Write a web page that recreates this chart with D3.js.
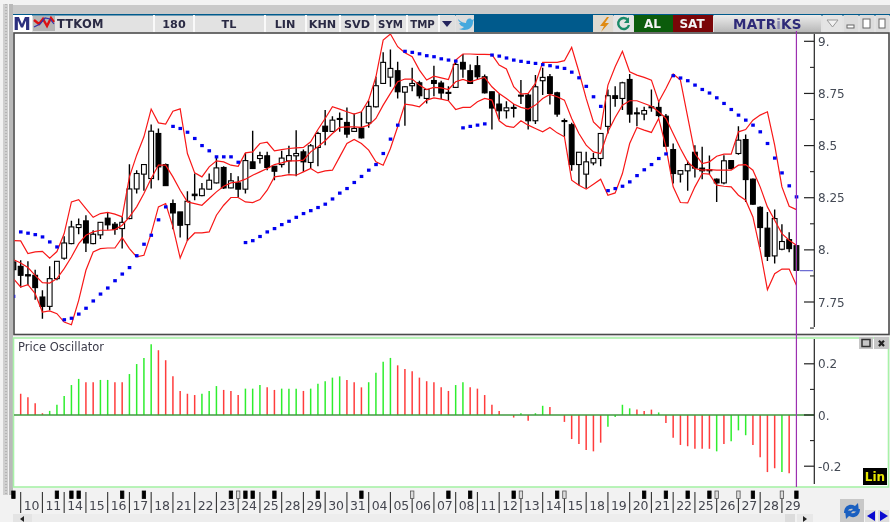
<!DOCTYPE html>
<html><head><meta charset="utf-8">
<script src="https://cdn.jsdelivr.net/npm/d3@7/dist/d3.min.js"></script>
<style>html,body{margin:0;padding:0;background:#f0f0f0;overflow:hidden}svg{display:block;filter:blur(0.3px)}text{font-family:"DejaVu Sans",sans-serif}</style>
</head><body><div id="chart"></div>
<script>
const symbol="TTKOM";
const toolbarCells=[["180",155,193],["TL",195,263],["LIN",266,304],["KHN",307,338],["SVD",341,373],["SYM",376,405],["TMP",408,437]];
const dayLabels=["10","11","14","15","16","17","18","21","22","23","24","25","28","29","30","31","04","05","06","07","08","11","12","13","14","15","18","19","20","21","22","25","26","27","28","29"];
const opens=[7.942,7.921,7.881,7.878,7.774,7.729,7.862,7.96,8.03,8.107,8.139,8.03,8.072,8.152,8.123,8.102,8.15,8.292,8.363,8.342,8.558,8.409,8.222,8.182,8.121,8.267,8.26,8.291,8.321,8.395,8.297,8.321,8.291,8.422,8.438,8.451,8.401,8.409,8.427,8.451,8.47,8.419,8.491,8.593,8.568,8.63,8.611,8.568,8.584,8.609,8.686,8.798,8.828,8.859,8.756,8.787,8.801,8.726,8.812,8.8,8.755,8.779,8.899,8.859,8.883,8.83,8.758,8.699,8.667,8.683,8.742,8.742,8.619,8.811,8.83,8.753,8.62,8.6,8.409,8.363,8.417,8.438,8.592,8.739,8.726,8.817,8.657,8.651,8.686,8.683,8.641,8.481,8.363,8.379,8.468,8.392,8.384,8.339,8.321,8.428,8.462,8.529,8.339,8.204,8.104,7.971,8.003,8.049,8.02];
const highs=[7.961,7.95,7.945,7.905,7.806,7.921,7.945,8.065,8.139,8.15,8.166,8.094,8.134,8.177,8.134,8.158,8.411,8.382,8.409,8.601,8.582,8.414,8.241,8.182,8.281,8.366,8.321,8.366,8.449,8.401,8.369,8.353,8.465,8.571,8.47,8.47,8.401,8.475,8.499,8.574,8.481,8.507,8.566,8.67,8.641,8.659,8.683,8.654,8.662,8.715,8.83,8.948,8.961,8.902,8.785,8.873,8.811,8.769,8.883,8.811,8.785,8.899,8.939,8.889,8.929,8.841,8.758,8.75,8.713,8.699,8.814,8.75,8.838,8.873,8.843,8.758,8.63,8.609,8.468,8.47,8.465,8.558,8.769,8.785,8.806,8.843,8.683,8.686,8.769,8.713,8.651,8.51,8.382,8.427,8.502,8.494,8.452,8.342,8.454,8.43,8.593,8.553,8.342,8.209,8.182,8.193,8.123,8.084,8.02];
const lows=[7.894,7.819,7.83,7.761,7.67,7.71,7.854,7.953,8.027,8.075,7.99,8.027,8.052,8.097,8.072,8.006,8.147,8.27,8.283,8.294,8.334,8.307,8.099,8.059,8.043,8.238,8.257,8.289,8.318,8.292,8.296,8.251,8.27,8.39,8.414,8.382,8.334,8.395,8.366,8.353,8.374,8.39,8.401,8.502,8.566,8.566,8.537,8.566,8.534,8.585,8.683,8.798,8.782,8.726,8.595,8.76,8.726,8.702,8.737,8.723,8.715,8.777,8.825,8.795,8.814,8.75,8.577,8.625,8.63,8.635,8.699,8.577,8.603,8.742,8.697,8.638,8.542,8.379,8.31,8.294,8.406,8.401,8.558,8.686,8.67,8.609,8.593,8.622,8.662,8.635,8.494,8.318,8.323,8.283,8.347,8.339,8.363,8.23,8.315,8.385,8.456,8.23,8.216,8.014,7.947,7.934,7.998,7.988,7.902];
const closes=[7.905,7.878,7.875,7.819,7.729,7.862,7.945,8.033,8.11,8.121,8.033,8.075,8.132,8.12,8.099,8.132,8.292,8.366,8.409,8.569,8.398,8.308,8.177,8.118,8.233,8.26,8.292,8.334,8.393,8.297,8.331,8.291,8.428,8.39,8.452,8.395,8.377,8.44,8.452,8.462,8.422,8.499,8.558,8.568,8.622,8.627,8.555,8.582,8.537,8.688,8.787,8.899,8.87,8.758,8.782,8.798,8.739,8.769,8.798,8.752,8.752,8.889,8.867,8.798,8.83,8.753,8.68,8.667,8.681,8.68,8.739,8.619,8.782,8.827,8.75,8.651,8.617,8.409,8.468,8.422,8.438,8.558,8.739,8.726,8.801,8.651,8.654,8.668,8.683,8.644,8.497,8.366,8.38,8.409,8.392,8.379,8.38,8.321,8.427,8.39,8.526,8.337,8.219,8.107,7.969,8.15,8.04,8.006,7.902];
const bandUpper=[8.044,8.043,7.982,7.99,7.993,7.96,7.992,8.078,8.23,8.241,8.198,8.156,8.174,8.18,8.171,8.158,8.35,8.454,8.542,8.675,8.609,8.603,8.665,8.676,8.462,8.369,8.35,8.398,8.427,8.422,8.406,8.401,8.465,8.47,8.51,8.516,8.475,8.481,8.486,8.489,8.491,8.518,8.577,8.63,8.686,8.675,8.662,8.651,8.662,8.718,8.83,9.006,9.035,8.974,8.945,8.926,8.862,8.814,8.833,8.825,8.817,8.91,8.939,8.939,8.937,8.937,8.936,8.886,8.867,8.782,8.747,8.75,8.798,8.899,8.899,8.899,8.907,8.971,8.854,8.726,8.614,8.58,8.79,8.878,8.952,8.854,8.838,8.827,8.814,8.71,8.774,8.843,8.814,8.638,8.462,8.414,8.422,8.449,8.459,8.459,8.566,8.577,8.622,8.646,8.662,8.502,8.302,8.209,8.193];
const bandMiddle=[7.953,7.937,7.915,7.878,7.843,7.841,7.862,7.91,7.966,8.03,8.07,8.086,8.094,8.094,8.097,8.118,8.158,8.206,8.27,8.342,8.406,8.406,8.35,8.286,8.23,8.222,8.214,8.246,8.278,8.305,8.321,8.326,8.339,8.358,8.374,8.39,8.409,8.417,8.427,8.427,8.43,8.47,8.494,8.523,8.558,8.587,8.59,8.59,8.587,8.598,8.63,8.694,8.75,8.806,8.819,8.819,8.79,8.769,8.779,8.777,8.769,8.806,8.817,8.806,8.817,8.827,8.782,8.75,8.726,8.699,8.683,8.675,8.694,8.726,8.745,8.734,8.718,8.63,8.558,8.502,8.47,8.462,8.566,8.635,8.694,8.715,8.715,8.702,8.689,8.662,8.63,8.558,8.486,8.422,8.39,8.382,8.385,8.382,8.382,8.382,8.406,8.409,8.382,8.302,8.206,8.142,8.078,8.046,8.022];
const bandLower=[7.862,7.822,7.833,7.79,7.702,7.707,7.694,7.654,7.641,7.758,7.902,7.99,8.006,8.009,8.009,8.059,8.006,7.966,7.974,8.078,8.206,8.222,8.11,7.961,8.046,8.081,8.081,8.086,8.166,8.214,8.251,8.251,8.23,8.227,8.241,8.286,8.35,8.355,8.361,8.358,8.374,8.39,8.369,8.379,8.382,8.446,8.51,8.529,8.51,8.478,8.422,8.406,8.486,8.59,8.699,8.694,8.686,8.718,8.729,8.723,8.715,8.673,8.683,8.683,8.71,8.726,8.718,8.619,8.593,8.587,8.619,8.598,8.582,8.566,8.587,8.561,8.542,8.334,8.31,8.291,8.315,8.339,8.262,8.273,8.366,8.51,8.587,8.574,8.563,8.63,8.494,8.302,8.227,8.225,8.302,8.366,8.363,8.31,8.305,8.302,8.262,8.238,8.158,7.998,7.809,7.886,7.908,7.908,7.83];
const sar=[7.777,8.086,8.08,8.073,8.062,8.038,8.014,7.665,7.672,7.692,7.72,7.755,7.788,7.817,7.852,7.884,7.915,7.972,8.027,8.07,8.144,8.206,8.592,8.582,8.564,8.534,8.5,8.475,8.446,8.446,8.446,8.42,8.035,8.044,8.064,8.086,8.102,8.121,8.137,8.156,8.174,8.188,8.203,8.219,8.244,8.272,8.294,8.323,8.352,8.382,8.409,8.462,8.531,8.598,8.952,8.947,8.94,8.931,8.926,8.916,8.91,8.905,8.585,8.592,8.598,8.604,8.934,8.929,8.92,8.91,8.904,8.899,8.894,8.888,8.883,8.876,8.87,8.852,8.825,8.784,8.734,8.688,8.284,8.294,8.305,8.326,8.356,8.384,8.409,8.438,8.46,8.835,8.824,8.811,8.79,8.769,8.752,8.729,8.702,8.673,8.646,8.622,8.598,8.566,8.51,8.44,8.369,8.307,8.254];
const oscillator=[0.083,0.069,0.046,0.007,0.016,0.04,0.074,0.117,0.141,0.128,0.128,0.137,0.137,0.128,0.128,0.16,0.199,0.223,0.276,0.253,0.214,0.151,0.094,0.083,0.078,0.083,0.094,0.113,0.098,0.094,0.078,0.103,0.103,0.117,0.108,0.098,0.103,0.103,0.103,0.094,0.103,0.122,0.132,0.146,0.151,0.137,0.128,0.108,0.128,0.165,0.208,0.223,0.194,0.18,0.171,0.146,0.132,0.128,0.108,0.094,0.117,0.128,0.108,0.103,0.078,0.04,0.016,0,-0.01,0.007,-0.022,0.007,0.036,0.031,0,-0.027,-0.094,-0.113,-0.137,-0.142,-0.108,-0.046,-0.008,0.04,0.026,0.021,0.016,0.021,0.01,-0.031,-0.089,-0.117,-0.122,-0.132,-0.132,-0.132,-0.142,-0.113,-0.103,-0.06,-0.079,-0.117,-0.165,-0.223,-0.208,-0.223,-0.228];
const oscillatorTrend="RRRRGGGGGRRGGRRGGGGRRRRRRGGGRRRGGGRRGGGRGGGGGRRRGGGGRRRRRRRRGGRRRRRRRGRGGRRRRRRRRGGGGRRRGRRRRRRRGRGGGRRRRGRR";
const priceTicks=[[9,"9."],[8.75,"8.75"],[8.5,"8.5"],[8.25,"8.25"],[8,"8."],[7.75,"7.75"]];
const priceMinor=[8.875,8.625,8.375,8.125,7.875,7.625];
const oscTicks=[[0.2,"0.2"],[0,"0."],[-0.2,"-0.2"]];
const oscMinor=[0.1,-0.1];
const signalEvents=[[0,"b"],[6,"b"],[8,"b"],[9,"b"],[15,"b"],[18,"b"],[30,"b"],[31,"w"],[32,"b"],[33,"b"],[36,"b"],[42,"b"],[48,"b"],[55,"w"],[60,"b"],[63,"b"],[69,"b"],[70,"w"],[75,"b"],[76,"w"],[87,"b"],[90,"b"],[93,"b"],[96,"b"],[97,"w"],[100,"w"],[102,"b"],[106,"w"],[108,"b"]];
const lastPrice=7.9;

const svg=d3.select("#chart").append("svg").attr("width",890).attr("height",522);
const x=d3.scaleLinear().domain([0,108]).range([13.42,796.42]);
const yP=d3.scaleLinear().domain([7.75,9]).range([302,41.3]);
const yO=d3.scaleLinear().domain([-0.2,0.2]).range([466.2,363.8]);
const rect=(g,a,b,w,h,f)=>g.append("rect").attr("x",a).attr("y",b).attr("width",w).attr("height",h).attr("fill",f);
const label=(g,t,a,b,o={})=>g.append("text").attr("x",a).attr("y",b).attr("text-anchor",o.anchor||"start").attr("font-size",o.size||12).attr("font-weight",o.weight||400).attr("fill",o.fill||"#3c3c4a").attr("letter-spacing",o.ls||0).text(t);

// window chrome
rect(svg,0,0,890,522,"#f2f2f2");
rect(svg,10,5,880,9,"#c9c9c9");
rect(svg,3,4,5,491,"#cfcfcf");
rect(svg,9,4,4,491,"#b9b9b9");
svg.append("line").attr("x1",6).attr("x2",6).attr("y1",4).attr("y2",495).attr("stroke","#999").attr("stroke-dasharray","1 2");

// toolbar
const tb=svg.append("g");
rect(tb,13,14,877,18,"#e2e2e2");
rect(tb,13,14,877,1.5,"#005a8c");
rect(tb,13,15,19,17,"#fff");
label(tb,"M",22,30,{anchor:"middle",size:18,weight:700,fill:"#2b2f7e"});
rect(tb,33,16,22,15,"#b5b5b5");
tb.append("path").attr("d","M34 20l5 4l4 -5l4 7l4 -8l3 4").attr("fill","none").attr("stroke","#d11").attr("stroke-width",2.4);
tb.append("path").attr("d","M34 27l6 -3l5 -6l5 1l4 5").attr("fill","none").attr("stroke","#33a").attr("stroke-width",1.2);
label(tb,symbol,57,28,{size:11.5,weight:700,fill:"#2a2a44",ls:0.2});
tb.selectAll(".cell").data(toolbarCells).join(e=>e.append("g")).each(function(d){
  const g=d3.select(this);
  rect(g,d[1]-2,15,2,17,"#f9f9f9");
  label(g,d[0],(d[1]+d[2])/2,28,{anchor:"middle",size:d[2]-d[1]<31?10.2:11.2,weight:700,fill:"#2a2a44"});
});
rect(tb,438,15,2,17,"#f9f9f9");
rect(tb,440,15,15,17,"#dedede");
tb.append("path").attr("d","M442 21h10l-5 6z").attr("fill","#23235c");
rect(tb,456,15,18,17,"#dcdcdc");
tb.append("path").attr("d","M458 19c3 3 6 4 8 4c0-4 4-6 6-3l2-1l-1 3c0 6-6 10-14 7c2 0 4-1 5-2c-3-1-4-2-5-4l2 0c-2-1-3-3-3-4z").attr("fill","#45a9de");
rect(tb,474,15,119,17,"#005a8c");
rect(tb,593,15,20,17,"#dfdad0");
tb.append("path").attr("d","M607 17l-7 9h4l-3 6l8-9h-4l4-6z").attr("fill","#e08a12");
rect(tb,614,15,19,17,"#e4e4e4");
tb.append("path").attr("d","M628 20a5.5 5.5 0 1 0 1 5").attr("fill","none").attr("stroke","#1a8a68").attr("stroke-width",2.4);
tb.append("path").attr("d","M629 17v6h-5z").attr("fill","#1a8a68");
rect(tb,634,15,39,17,"#0b5c0b");
label(tb,"AL",652.5,28,{anchor:"middle",size:12,weight:700,fill:"#f4f4f4"});
rect(tb,673,15,40,17,"#7a0508");
label(tb,"SAT",692,28,{anchor:"middle",size:12,weight:700,fill:"#f4f4f4"});
const mg=svg.append("defs").append("linearGradient").attr("id","mg").attr("x2",0).attr("y2",1);
mg.append("stop").attr("offset",0).attr("stop-color","#ececec");mg.append("stop").attr("offset",1).attr("stop-color","#b8b8b8");
rect(tb,714,15,107,17,"url(#mg)");
const mk=label(tb,"",733,29,{size:13.5,weight:700,fill:"#2e2a78",ls:0.2});
mk.append("tspan").text("MATR");mk.append("tspan").attr("fill","#8a8ab0").text("i");mk.append("tspan").text("KS");
rect(tb,823,15,19,17,"#e4e4e4");
tb.append("path").attr("d","M827 20h11l-5.5 7z").attr("fill","#f2f2f2").attr("stroke","#999");
rect(tb,844,15,14,17,"#dcdcdc");
rect(tb,847,25,7,3,"#fff").attr("stroke","#666");
rect(tb,860,15,14,17,"#dcdcdc");
rect(tb,863,19,7,9,"#fff").attr("stroke","#666");
rect(tb,876,15,13,17,"#dcdcdc");
rect(tb,879,19,6,9,"#fff").attr("stroke","#666");

// panes
rect(svg,14,33,875,301.5,"#fff").attr("stroke","#4a4a4a").attr("stroke-width",1.6);
rect(svg,13.5,338,875,149,"#fff").attr("stroke","#a8f2a8").attr("stroke-width",1.6);
const defs=svg.select("defs");
defs.append("clipPath").attr("id","cp").append("rect").attr("x",14.5).attr("y",34).attr("width",790).attr("height",300);

const price=svg.append("g").attr("clip-path","url(#cp)");
const k=d3.range(opens.length);
// candles
const candle=price.selectAll(".c").data(k).join("g").attr("class","c");
candle.append("line").attr("x1",i=>x(i)).attr("x2",i=>x(i)).attr("y1",i=>yP(highs[i])).attr("y2",i=>yP(lows[i])).attr("stroke","#000").attr("stroke-width",1.4);
candle.append("rect").attr("x",i=>x(i)-2.4).attr("width",4.8)
 .attr("y",i=>yP(Math.max(opens[i],closes[i])))
 .attr("height",i=>Math.max(Math.abs(yP(opens[i])-yP(closes[i])),1))
 .attr("fill",i=>closes[i]>=opens[i]?"#fff":"#000").attr("stroke","#000").attr("stroke-width",1.1);
// last bar inner green
price.append("line").attr("x1",x(108)).attr("x2",x(108)).attr("y1",yP(opens[108])).attr("y2",yP(closes[108])).attr("stroke","#5ce05c").attr("stroke-width",1.4);
// bollinger bands
const bandLine=d3.line().x((d,i)=>x(i)).y(d=>yP(d));
[bandUpper,bandMiddle,bandLower].forEach(b=>price.append("path").attr("d",bandLine(b)).attr("fill","none").attr("stroke","#f81818").attr("stroke-width",1.2));
// parabolic SAR
price.selectAll(".s").data(sar).join("rect").attr("class","s").attr("x",(d,i)=>x(i)-1.7).attr("y",d=>yP(d)-1.6).attr("width",3.6).attr("height",3.2).attr("fill","#0000f0");
// price axis
const axisP=svg.append("g").attr("stroke","#222");
axisP.append("line").attr("x1",814.3).attr("x2",814.3).attr("y1",34).attr("y2",327).attr("stroke-width",1.2);
priceTicks.forEach(([v,t])=>{axisP.append("line").attr("x1",804).attr("x2",814).attr("y1",yP(v)).attr("y2",yP(v)).attr("stroke-width",1.2);
 label(svg,t,818,yP(v)+4.6,{size:12,fill:"#444a55"});});
priceMinor.forEach(v=>axisP.append("line").attr("x1",810).attr("x2",814).attr("y1",yP(v)).attr("y2",yP(v)).attr("stroke-width",1.1));
svg.append("line").attr("x1",800).attr("x2",813).attr("y1",yP(lastPrice)).attr("y2",yP(lastPrice)).attr("stroke","#4a4ac8").attr("stroke-width",1);

// oscillator
label(svg,"Price Oscillator",18,351,{size:11.5,fill:"#3c3c4a"});
svg.selectAll(".o").data(oscillator).join("line").attr("class","o")
 .attr("x1",(d,i)=>x(i+1)).attr("x2",(d,i)=>x(i+1)).attr("y1",yO(0)).attr("y2",d=>yO(d))
 .attr("stroke",(d,i)=>oscillatorTrend[i]==="G"?"#2eee2e":"#ff3c3c").attr("stroke-width",1.5);
svg.append("line").attr("x1",14).attr("x2",814).attr("y1",yO(0)).attr("y2",yO(0)).attr("stroke","#3f9a3f").attr("stroke-width",1.5);
const axisO=svg.append("g").attr("stroke","#222");
axisO.append("line").attr("x1",814.3).attr("x2",814.3).attr("y1",339).attr("y2",484).attr("stroke-width",1.2);
oscTicks.forEach(([v,t])=>{axisO.append("line").attr("x1",804).attr("x2",814).attr("y1",yO(v)).attr("y2",yO(v)).attr("stroke-width",1.2);
 label(svg,t,818,yO(v)+4.6,{size:12,fill:"#444a55"});});
oscMinor.forEach(v=>axisO.append("line").attr("x1",810).attr("x2",814).attr("y1",yO(v)).attr("y2",yO(v)).attr("stroke-width",1.1));
// cursor
svg.append("line").attr("x1",x(108)).attr("x2",x(108)).attr("y1",31).attr("y2",487).attr("stroke","#9c2fb0").attr("stroke-width",1.2);
// pane buttons
rect(svg,859,337,14,12,"#c6c6c6");
svg.append("rect").attr("x",862).attr("y",339.5).attr("width",8).attr("height",7).attr("fill","none").attr("stroke","#333").attr("stroke-width",1.5);
rect(svg,874,337,15,12,"#c6c6c6");
label(svg,"✖",881.5,347,{anchor:"middle",size:10,fill:"#222"});
rect(svg,863,468,24,17,"#000");
label(svg,"Lin",875,481,{anchor:"middle",size:12,weight:700,fill:"#e6e600"});

// time axis
const timeAxis=svg.append("g");
dayLabels.forEach((t,i)=>{const sx=x(1+i*3);
 timeAxis.append("line").attr("x1",sx).attr("x2",sx).attr("y1",492).attr("y2",513).attr("stroke","#333").attr("stroke-width",1.1);
 label(timeAxis,t,sx+3,510,{size:12.5,fill:"#44464f"});});
signalEvents.forEach(([i,c])=>rect(timeAxis,x(i)-1.7,491,3.4,7.4,c==="b"?"#000":"#ddd").attr("stroke",c==="b"?"#000":"#555").attr("stroke-width",0.8));
// scrollbar
rect(svg,13,514,772,8,"#ededed");
rect(svg,13,514,19,8,"#e4e4e4");
svg.append("path").attr("d","M20 519l4-3v6z").attr("fill","#222");
rect(svg,785,514,10,8,"#dcdcdc");
rect(svg,797,514,16,8,"#e8e8e8");
svg.append("path").attr("d","M803 516l4 3l-4 3z").attr("fill","#222");
rect(svg,840,499,24,23,"#c8c8c8");
svg.append("path").attr("d","M844 513c0-7 6-10 11-7l3-3l1 9l-8-1l2-2c-3-1-6 1-6 4zM860 509c0 7-6 10-11 7l-3 3l-1-9l8 1l-2 2c3 1 6-1 6-4z").attr("fill","#1a5fc0");
rect(svg,865,510,11,12,"#ddd");
svg.append("path").attr("d","M875 511v10l-8-5z").attr("fill","#0808d0");
rect(svg,878,510,11,12,"#ddd");
svg.append("path").attr("d","M880 511v10l8-5z").attr("fill","#0808d0");
</script></body></html>
